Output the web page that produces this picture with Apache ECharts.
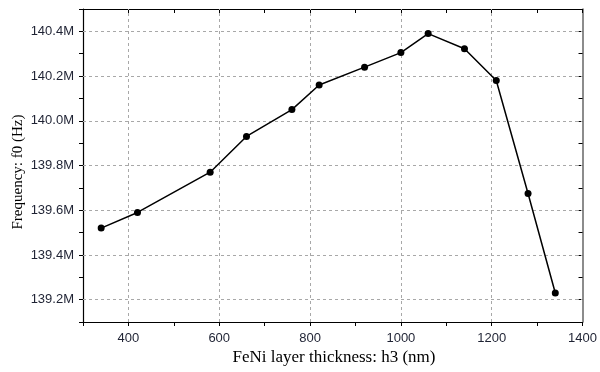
<!DOCTYPE html>
<html>
<head>
<meta charset="utf-8">
<script src="https://cdn.jsdelivr.net/npm/echarts@6/dist/echarts.min.js"></script>
<style>html,body{margin:0;padding:0;background:#fff}#c{width:600px;height:372px}</style>
</head>
<body>
<div id="c"></div>
<script>
const thickness = [340, 420, 580, 660, 760, 820, 920, 1000, 1060, 1140, 1210, 1280, 1340];
const frequencyMHz = [139.52, 139.59, 139.77, 139.93, 140.05, 140.16, 140.24, 140.305, 140.39, 140.322, 140.18, 139.675, 139.23];
const xGridValues = [400, 600, 800, 1000, 1200];
const yGridValues = [139.2, 139.4, 139.6, 139.8, 140.0, 140.2, 140.4];
const xTitle = 'FeNi layer thickness: h3 (nm)';
const yTitle = 'Frequency: f0 (Hz)';

const chart = echarts.init(document.getElementById('c'));
const gridStyle = { color: '#a8a8a8', width: 1, type: [3, 3] };
const labelColor = '#1e2233';
chart.setOption({
  animation: false,
  grid: { left: 83, right: 15, top: 9, bottom: 50, containLabel: false },
  xAxis: [{
    type: 'value', min: 300, max: 1400, interval: 100, position: 'bottom',
    axisLine: { show: true, lineStyle: { color: '#000', width: 1.2 } },
    axisTick: { show: true, inside: false, length: 4, lineStyle: { color: '#000' } },
    axisLabel: { margin: 10, color: labelColor, fontFamily: 'Liberation Sans', fontSize: 13,
      formatter: v => (Math.round(v) % 200 === 0 ? String(Math.round(v)) : '') },
    splitLine: { show: false }
  }, {
    type: 'value', min: 300, max: 1400, interval: 100, position: 'top',
    axisLine: { show: true, lineStyle: { color: '#000', width: 1.2 } },
    axisTick: { show: true, inside: true, length: 4, lineStyle: { color: '#000' } },
    axisLabel: { show: false }, splitLine: { show: false }
  }],
  yAxis: [{
    type: 'value', min: 139.1, max: 140.5, interval: 0.1, position: 'left',
    axisLine: { show: true, lineStyle: { color: '#000', width: 1.2 } },
    axisTick: { show: true, inside: false, length: 4, lineStyle: { color: '#000' } },
    axisLabel: { margin: 9, color: labelColor, fontFamily: 'Liberation Sans', fontSize: 13,
      formatter: v => { const k = Math.round(v * 10); return k % 2 === 0 ? (k / 10).toFixed(1) + 'M' : ''; } },
    splitLine: { show: false }
  }, {
    type: 'value', min: 139.1, max: 140.5, interval: 0.1, position: 'right',
    axisLine: { show: true, lineStyle: { color: '#666', width: 1.5 } },
    axisTick: { show: true, inside: true, length: 4, lineStyle: { color: '#000' } },
    axisLabel: { show: false }, splitLine: { show: false }
  }],
  series: [{
    type: 'line', z: 1, data: [], silent: true,
    markLine: {
      silent: true, symbol: 'none', label: { show: false }, animation: false,
      lineStyle: gridStyle,
      data: xGridValues.map(v => ({ xAxis: v })).concat(yGridValues.map(v => ({ yAxis: v })))
    }
  }, {
    type: 'line', z: 5,
    data: thickness.map((x, i) => [x, frequencyMHz[i]]),
    symbol: 'circle', symbolSize: 7,
    itemStyle: { color: '#000' },
    lineStyle: { color: '#000', width: 1.5 }
  }],
  graphic: [{
    type: 'text', x: 334, y: 358,
    style: { text: xTitle, font: '17px "Liberation Serif"', fill: '#000', textAlign: 'center', textVerticalAlign: 'middle' }
  }, {
    type: 'text', rotation: Math.PI / 2, x: 18, y: 172,
    style: { text: yTitle, font: '15px "Liberation Serif"', fill: '#000', textAlign: 'center', textVerticalAlign: 'middle' }
  }]
});
</script>
</body>
</html>
